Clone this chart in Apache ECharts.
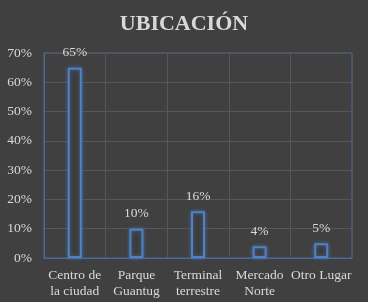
<!DOCTYPE html>
<html><head><meta charset="utf-8">
<script src="https://cdn.jsdelivr.net/npm/echarts@6/dist/echarts.min.js"></script>
<style>html,body{margin:0;padding:0;background:#404040;}#c{width:368px;height:302px;}</style>
</head><body><div id="c"></div>
<script>
const categories = ['Centro de\nla ciudad', 'Parque\nGuantug', 'Terminal\nterrestre', 'Mercado\nNorte', 'Otro Lugar'];
const values = [65, 10, 16, 4, 5];
const yTicks = [0, 10, 20, 30, 40, 50, 60, 70];
const title = 'UBICACIÓN';
const FONT = 'Liberation Serif';

const chart = echarts.init(document.getElementById('c'));
chart.setOption({
  backgroundColor: '#404040',
  textStyle: { fontFamily: FONT },
  title: { text: title, left: 'center', top: 8,
    textStyle: { fontFamily: FONT, fontSize: 22, fontWeight: 'bold', color: '#d9d9d9' } },
  grid: { left: 44, right: 16, top: 53, bottom: 44 },
  xAxis: {
    type: 'category', data: categories,
    axisLine: { lineStyle: { color: '#4a6a9c', width: 1 } },
    axisTick: { show: false },
    splitLine: { show: true, lineStyle: { color: '#575757', width: 1 } },
    axisLabel: { color: '#d9d9d9', fontFamily: FONT, fontSize: 13.5, lineHeight: 16, margin: 9, interval: 0 }
  },
  yAxis: {
    type: 'value', min: 0, max: yTicks[yTicks.length - 1], interval: 10,
    axisLine: { show: true, lineStyle: { color: '#4a6a9c' } },
    axisTick: { show: false },
    splitLine: { lineStyle: { color: '#575757', width: 1 } },
    axisLabel: { color: '#d9d9d9', fontFamily: FONT, fontSize: 13.5, margin: 12, formatter: v => v + '%' }
  },
  series: [{
    type: 'bar', data: values, barWidth: 14,
    itemStyle: { color: '#3c3c3c', borderColor: '#4f81c7', borderWidth: 2, shadowColor: 'rgba(79,129,199,0.6)', shadowBlur: 4 },
    label: { show: true, position: 'top', distance: 8, formatter: p => p.value + '%', color: '#d9d9d9', fontFamily: FONT, fontSize: 13.5 }
  }],
  graphic: [{ type: 'rect', shape: { x: 44, y: 53, width: 308, height: 205 }, style: { fill: 'none', stroke: '#4a6a9c', lineWidth: 1 }, silent: true, z: 0 }]
});
</script></body></html>
